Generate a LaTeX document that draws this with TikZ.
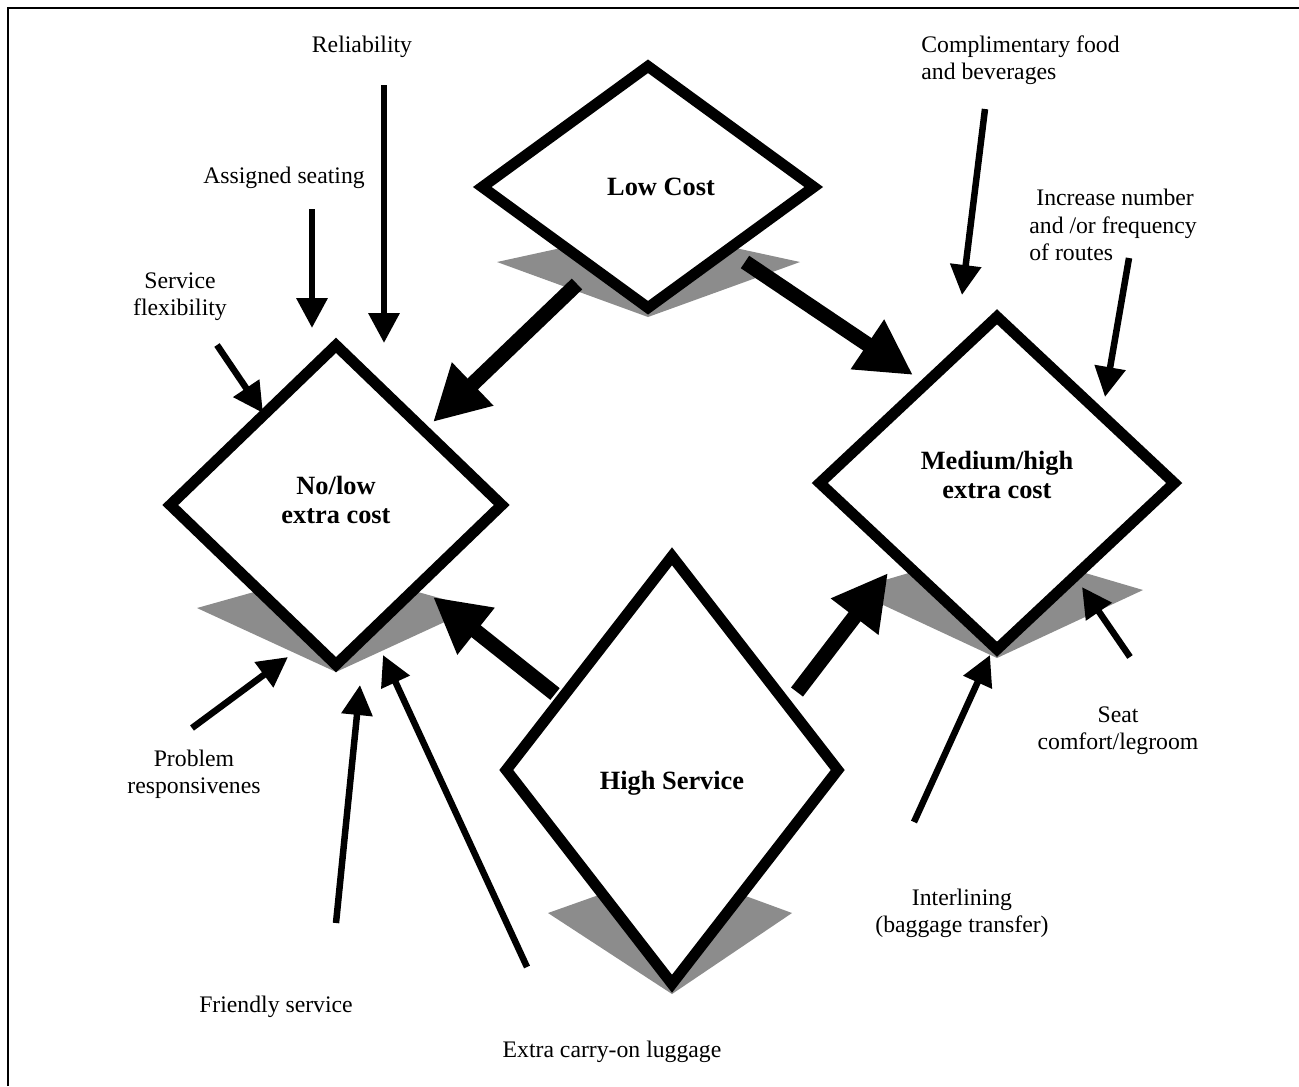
\documentclass[tikz,border=0pt]{standalone}
\usepackage{fontspec}
\setmainfont{Liberation Serif}
\usetikzlibrary{arrows.meta,shapes.geometric}

\begin{document}
\begin{tikzpicture}[x=0.2mm,y=-0.2mm,
    choice/.style={diamond,draw,line width=2.2mm,fill=white,inner sep=0pt},
    capt/.style={inner sep=0pt,align=center,font=\bfseries\fontsize{15}{17}\selectfont},
    floor/.style={fill=black!45},
    attr/.style={inner sep=0pt,align=center,font=\fontsize{13.5}{15.5}\selectfont},
    bigflow/.style={line width=3mm,-{Triangle[length=11mm,width=11.2mm]}},
    flow/.style={line width=1.3mm,-{Triangle[length=6mm,width=6mm]}}
]
    \useasboundingbox (0,0) rectangle (1299,1086);
    \draw[line width=0.5mm] (8,1086) -- (8,8) -- (1299,8);

    \fill[floor] (497,262) -- (648,229) -- (800,262) -- (648,317) -- cycle;
    \fill[floor] (197,608) -- (336,569) -- (475,608) -- (336,672) -- cycle;
    \fill[floor] (851,590) -- (997,547) -- (1143,590) -- (997,658) -- cycle;
    \fill[floor] (548,913) -- (672,869) -- (792,913) -- (672,994) -- cycle;

    \node[choice,minimum width=67.2mm,minimum height=49.2mm,
        label={[capt,xshift=2.6mm]center:Low Cost}] (lowcost) at (648,187) {};
    \node[choice,minimum width=67.2mm,minimum height=64.8mm,
        label={[capt,yshift=1mm]center:No/low\\extra cost}] (nolow) at (336,505) {};
    \node[choice,minimum width=71.8mm,minimum height=67.4mm,
        label={[capt,yshift=1.6mm]center:Medium/high\\extra cost}] (medhigh) at (997,483) {};
    \node[choice,minimum width=67.2mm,minimum height=86.4mm,
        label={[capt,yshift=-2.6mm]center:High Service}] (highserv) at (672,770) {};

    \node[attr] (reliab) at (362,47) {Reliability};
    \node[attr] (seating) at (284,178) {Assigned seating};
    \node[attr] (flex) at (180,297) {Service\\flexibility};
    \node[attr,align=left,anchor=west] (food) at (921,60) {Complimentary food\\and beverages};
    \node[attr,align=left,anchor=west] (routes) at (1029,225) {\hspace*{4pt}Increase number\\and /or frequency\\of routes};
    \node[attr] (problem) at (194,774) {Problem\\responsivenes};
    \node[attr] (friendly) at (276,1007) {Friendly service};
    \node[attr] (carryon) at (612,1052) {Extra carry-on luggage};
    \node[attr] (interline) at (962,913) {Interlining\\(baggage transfer)};
    \node[attr] (legroom) at (1118,731) {Seat\\comfort/legroom};

    \coordinate (lcA) at (577,284); \coordinate (nlA) at (433,422);
    \coordinate (lcB) at (745,262); \coordinate (mhA) at (913,375);
    \coordinate (hsA) at (555,694); \coordinate (nlB) at (433,597);
    \coordinate (hsB) at (797,692); \coordinate (mhB) at (888,573);
    \draw[bigflow] (lcA) -- (nlA); \draw[bigflow] (lcB) -- (mhA);
    \draw[bigflow] (hsA) -- (nlB); \draw[bigflow] (hsB) -- (mhB);

    \coordinate (relS) at (384,85); \coordinate (relT) at (384,343);
    \coordinate (seaS) at (312,209); \coordinate (seaT) at (312,328);
    \coordinate (flxS) at (217,345); \coordinate (flxT) at (263,413);
    \coordinate (fooS) at (985,109); \coordinate (fooT) at (962,295);
    \coordinate (rouS) at (1129,258); \coordinate (rouT) at (1105,397);
    \coordinate (proS) at (192,728); \coordinate (proT) at (288,657);
    \coordinate (friS) at (336,923); \coordinate (friT) at (360,685);
    \coordinate (carS) at (527,967); \coordinate (carT) at (383,655);
    \coordinate (intS) at (914,822); \coordinate (intT) at (990,655);
    \coordinate (legS) at (1130,657); \coordinate (legT) at (1082,587);
    \draw[flow] (relS) -- (relT); \draw[flow] (seaS) -- (seaT);
    \draw[flow] (flxS) -- (flxT); \draw[flow] (fooS) -- (fooT);
    \draw[flow] (rouS) -- (rouT); \draw[flow] (proS) -- (proT);
    \draw[flow] (friS) -- (friT); \draw[flow] (carS) -- (carT);
    \draw[flow] (intS) -- (intT); \draw[flow] (legS) -- (legT);
\end{tikzpicture}
\end{document}
